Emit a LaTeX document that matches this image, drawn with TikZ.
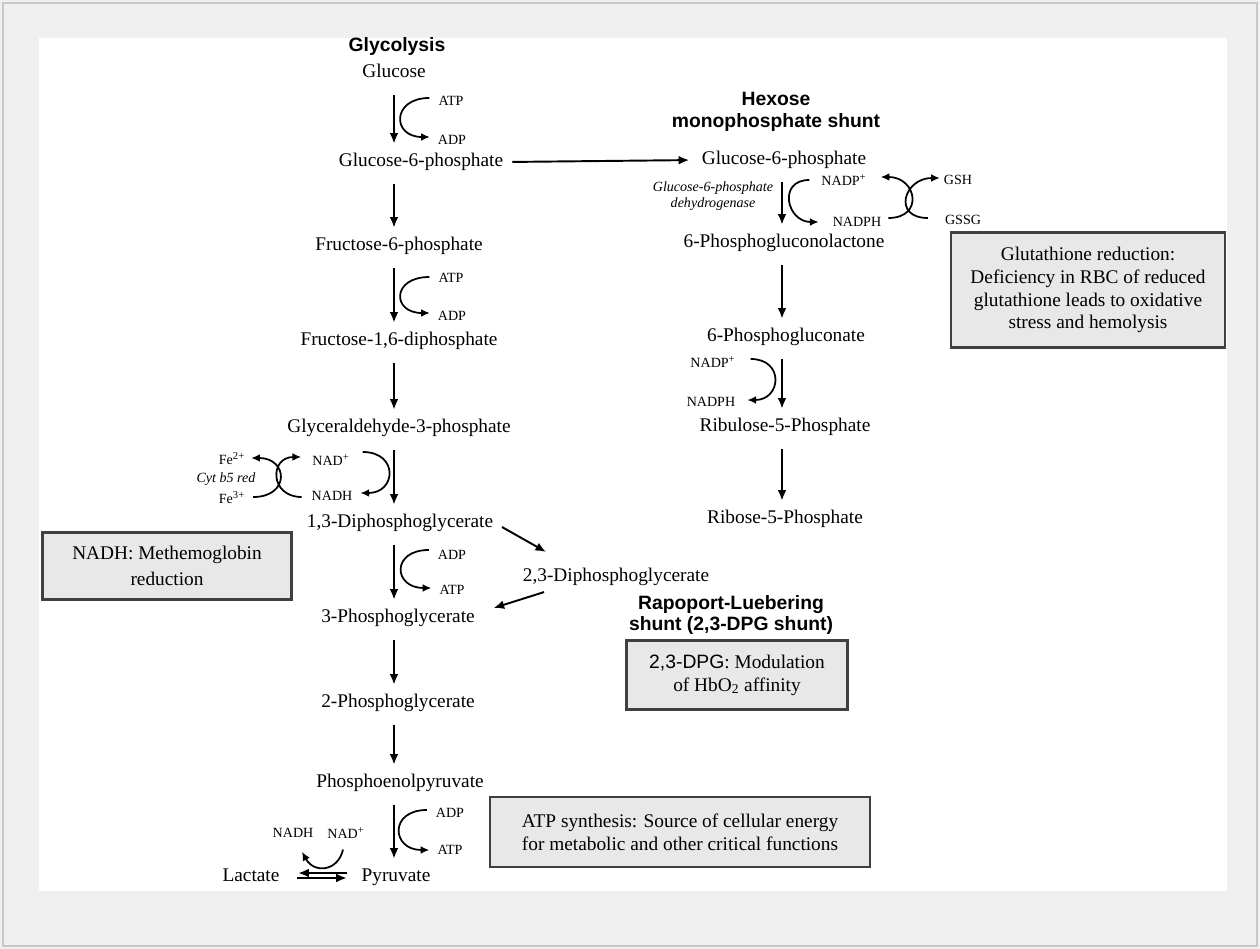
\documentclass[tikz,border=0pt]{standalone}
\usepackage{fontspec}
\setmainfont{Liberation Serif}
\setsansfont{Liberation Sans}
\usetikzlibrary{arrows.meta}

\definecolor{framegray}{HTML}{F0F0F0}
\definecolor{edgegray}{HTML}{C8C8C8}
\definecolor{boxgray}{HTML}{E8E8E8}

\begin{document}
\begin{tikzpicture}[x=0.02cm, y=-0.02cm,
    met/.style={font=\fontsize{11}{13}\selectfont, inner sep=2pt, text height=8pt, text depth=2.5pt},
    cof/.style={font=\fontsize{8}{9}\selectfont, inner sep=1pt},
    enz/.style={font=\fontsize{8}{9.5}\selectfont\itshape, align=center, inner sep=1pt},
    head/.style={font=\fontsize{11}{12.5}\selectfont\sffamily\bfseries, align=center},
    note/.style={draw=black!75, line width=1.3pt, fill=boxgray, align=center,
                 font=\fontsize{11}{13}\selectfont},
    flow/.style={line width=1.1pt, -{Latex[length=6pt,width=5pt]},
                 shorten <=5pt, shorten >=3pt},
    side/.style={line width=1pt, -{Latex[length=5pt,width=4.5pt]}}]

    % page frame
    \useasboundingbox (0,0) rectangle (1260,949);
    \fill[framegray] (0,0) rectangle (1260,949);
    \draw[edgegray, line width=0.9pt] (3,3) rectangle (1257,946);
    \fill[white] (39,38) rectangle (1227,891);

    \coordinate (spine) at (394,0);
    \coordinate (hmp) at (782,0);

    % headings
    \node[head] (glyhead) at (397,47) {Glycolysis};
    \node[head] (hmphead) at (776,112) {Hexose\\monophosphate shunt};
    \node[head] (rlhead) at (731,615) {Rapoport-Luebering\\shunt (2,3-DPG shunt)};

    % glycolysis
    \node[met] (glc) at (394,73) {Glucose};
    \node[met] (g6p) at (421,162) {Glucose-6-phosphate};
    \node[met] (f6p) at (399,246) {Fructose-6-phosphate};
    \node[met] (f16bp) at (399,341) {Fructose-1,6-diphosphate};
    \node[met] (gap) at (399,428) {Glyceraldehyde-3-phosphate};
    \node[met] (bpg13) at (400,523) {1,3-Diphosphoglycerate};
    \node[met] (pg3) at (398,618) {3-Phosphoglycerate};
    \node[met] (pg2) at (398,703) {2-Phosphoglycerate};
    \node[met] (pep) at (400,783) {Phosphoenolpyruvate};
    \node[met] (pyr) at (396,877) {Pyruvate};
    \node[met] (lac) at (251,877) {Lactate};
    \node[met] (bpg23) at (616,577) {2,3-Diphosphoglycerate};

    \draw[flow] (glc.south -| spine) -- (g6p.north -| spine);
    \draw[flow] (g6p.south -| spine) -- (f6p.north -| spine);
    \draw[flow] (f6p.south -| spine) -- (f16bp.north -| spine);
    \draw[flow] (f16bp.south -| spine) -- (gap.north -| spine);
    \draw[flow] (gap.south -| spine) -- (bpg13.north -| spine);
    \draw[flow] (bpg13.south -| spine) -- (pg3.north -| spine);
    \draw[flow] (pg3.south -| spine) -- (pg2.north -| spine);
    \draw[flow] (pg2.south -| spine) -- (pep.north -| spine);
    \draw[flow] (pep.south -| spine) -- (pyr.north -| spine);

    % ATP / ADP side reactions
    \node[cof] (atp1) at (451,101) {ATP};
    \node[cof] (adp1) at (452,140) {ADP};
    \node[cof] (atp2) at (451,278) {ATP};
    \node[cof] (adp2) at (452,316) {ADP};
    \node[cof] (adp3) at (452,555) {ADP};
    \node[cof] (atp3) at (452,590) {ATP};
    \node[cof] (adp4) at (450,813) {ADP};
    \node[cof] (atp4) at (450,850) {ATP};

    \draw[side] ([shift={(-7,-3)}]atp1.west) .. controls +(-38,0) and +(-38,0) .. ([shift={(-6,-3)}]adp1.west);
    \draw[side] ([shift={(-7,-1)}]atp2.west) .. controls +(-38,0) and +(-38,0) .. ([shift={(-6,-3)}]adp2.west);
    \draw[side] ([shift={(-7,-5)}]adp3.west) .. controls +(-38,0) and +(-38,0) .. ([shift={(-6,-2)}]atp3.west);
    \draw[side] ([shift={(-7,-3)}]adp4.west) .. controls +(-38,0) and +(-38,0) .. ([shift={(-6,0)}]atp4.west);

    % NADH and methemoglobin
    \node[cof] (nad1) at (331,460) {NAD\textsuperscript{+}};
    \node[cof] (nadh1) at (332,496) {NADH};
    \node[cof] (fe2) at (232,459) {Fe\textsuperscript{2+}};
    \node[cof] (fe3) at (232,498) {Fe\textsuperscript{3+}};
    \node[enz] (cyt) at (226,479) {Cyt b5 red};

    \draw[side] ([shift={(11,-8)}]nad1.east) .. controls +(36,0) and +(36,0) .. ([shift={(6,-3)}]nadh1.east);
    \draw[side] ([shift={(6,-1)}]fe3.east) .. controls +(37,0) and +(37,0) .. ([shift={(4,-1)}]fe2.east);
    \draw[side] ([shift={(-8,1)}]nadh1.west) .. controls +(-32,0) and +(-32,0) .. ([shift={(-9,-3)}]nad1.west);

    % 2,3-DPG shunt
    \draw[flow, shorten <=0pt, shorten >=0pt] ([shift={(5,4)}]bpg13.east) -- ([shift={(27,-12)}]bpg23.north west);
    \draw[flow, shorten <=0pt, shorten >=0pt] ([shift={(25,2)}]bpg23.south west) -- ([shift={(15,-10)}]pg3.east);

    % lactate
    \node[cof] (nadh2) at (293,833) {NADH};
    \node[cof] (nad2) at (346,833) {NAD\textsuperscript{+}};
    \draw[side] ([shift={(-3,9)}]nad2.south) .. controls +(-5,22) and +(12,22) .. ([shift={(9,12)}]nadh2.south);
    \draw[flow, shorten <=0pt, shorten >=0pt] ([shift={(-11,-4)}]pyr.west) -- ([shift={(15,-4)}]lac.east);
    \draw[flow, shorten <=0pt, shorten >=0pt] ([shift={(14,1)}]lac.east) -- ([shift={(-11,1)}]pyr.west);

    % hexose monophosphate shunt
    \node[met] (g6p2) at (784,160) {Glucose-6-phosphate};
    \node[met] (pgl) at (784,243) {6-Phosphogluconolactone};
    \node[met] (pgn) at (786,337) {6-Phosphogluconate};
    \node[met] (ru5p) at (785,427) {Ribulose-5-Phosphate};
    \node[met] (r5p) at (785,519) {Ribose-5-Phosphate};
    \node[enz] (g6pd) at (713,196) {Glucose-6-phosphate\\dehydrogenase};

    \draw[flow, shorten <=3pt, shorten >=5pt] (g6p.east) -- (g6p2.west);
    \draw[flow] (g6p2.south -| hmp) -- (pgl.north -| hmp);
    \draw[flow] (pgl.south -| hmp) -- (pgn.north -| hmp);
    \draw[flow] (pgn.south -| hmp) -- (ru5p.north -| hmp);
    \draw[flow] (ru5p.south -| hmp) -- (r5p.north -| hmp);

    \node[cof] (nadp1) at (844,180) {NADP\textsuperscript{+}};
    \node[cof] (nadph1) at (857,222) {NADPH};
    \node[cof] (gsh) at (958,180) {GSH};
    \node[cof] (gssg) at (963,220) {GSSG};
    \node[cof] (nadp2) at (713,362) {NADP\textsuperscript{+}};
    \node[cof] (nadph2) at (711,402) {NADPH};

    \draw[side] ([shift={(-10,0)}]nadp1.west) .. controls +(-32,0) and +(-32,0) .. ([shift={(-12,0)}]nadph1.west);
    \draw[side] ([shift={(5,-4)}]nadph1.east) .. controls +(36,0) and +(36,0) .. ([shift={(12,-3)}]nadp1.east);
    \draw[side] ([shift={(-15,-2)}]gssg.west) .. controls +(-36,0) and +(-36,0) .. ([shift={(-2,-2)}]gsh.west);
    \draw[side] ([shift={(13,-3)}]nadp2.east) .. controls +(34,0) and +(34,0) .. ([shift={(10,-2)}]nadph2.east);

    % notes
    \node[note, minimum width=5.48cm, minimum height=2.3cm] (gsnote) at (1088,290)
        {Glutathione reduction:\\Deficiency in RBC of reduced\\glutathione leads to oxidative\\stress and hemolysis};
    \node[note, minimum width=4.98cm, minimum height=1.34cm] (mhbnote) at (167,566)
        {NADH: Methemoglobin\\[2pt]reduction};
    \node[note, minimum width=4.42cm, minimum height=1.38cm] (dpgnote) at (737,675)
        {{\sffamily 2,3-DPG}: Modulation\\of HbO\textsubscript{2} affinity};
    \node[note, minimum width=7.6cm, minimum height=1.4cm] (atpnote) at (680,832)
        {ATP synthesis: Source of cellular energy\\for metabolic and other critical functions};
\end{tikzpicture}
\end{document}
